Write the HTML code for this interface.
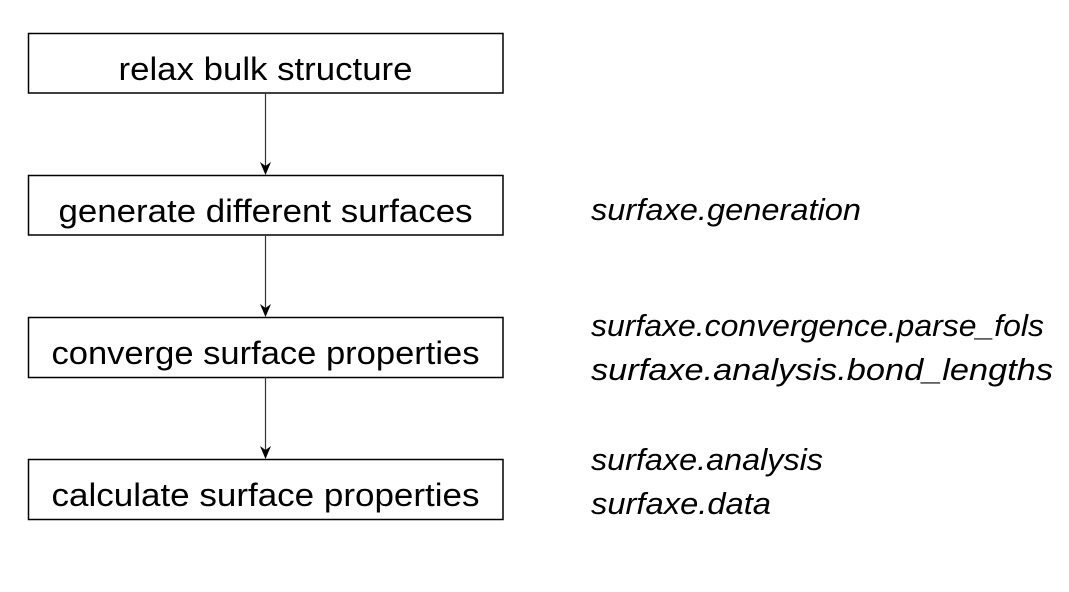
<!DOCTYPE html>
<html><head><meta charset="utf-8"><style>
html,body{margin:0;padding:0;background:#fff;}
svg{display:block;}
text{font-family:"Liberation Sans",sans-serif;fill:#000;}
.b{font-size:32px;}
.i{font-size:31px;font-style:italic;}
</style></head><body>
<svg width="1069" height="592" viewBox="0 0 1069 592">
<g fill="none" stroke="#000" stroke-width="1.5">
<rect x="28.5" y="33.5" width="474.5" height="59.5"/>
<rect x="28.5" y="175.5" width="474.5" height="59.5"/>
<rect x="28.5" y="317.5" width="474.5" height="60"/>
<rect x="28.5" y="459.5" width="474.5" height="60"/>
</g>
<g stroke="#333" stroke-width="1.2">
<line x1="265.5" y1="93" x2="265.5" y2="170"/>
<line x1="265.5" y1="235" x2="265.5" y2="312"/>
<line x1="265.5" y1="377" x2="265.5" y2="454"/>
</g>
<g fill="#000">
<polygon points="260,162 265.5,166 271,162 265.5,175"/>
<polygon points="260,304 265.5,308 271,304 265.5,317"/>
<polygon points="260,446 265.5,450 271,446 265.5,459"/>
</g>
<g class="b" text-anchor="middle">
<text x="265.5" y="80" textLength="294" lengthAdjust="spacingAndGlyphs">relax bulk structure</text>
<text x="265.5" y="222" textLength="414" lengthAdjust="spacingAndGlyphs">generate different surfaces</text>
<text x="265.5" y="364" textLength="428" lengthAdjust="spacingAndGlyphs">converge surface properties</text>
<text x="265.5" y="506" textLength="428" lengthAdjust="spacingAndGlyphs">calculate surface properties</text>
</g>
<g class="i">
<text x="591" y="220" textLength="270" lengthAdjust="spacingAndGlyphs">surfaxe.generation</text>
<text x="591" y="336" textLength="453" lengthAdjust="spacingAndGlyphs">surfaxe.convergence.parse_fols</text>
<text x="591" y="380" textLength="462" lengthAdjust="spacingAndGlyphs">surfaxe.analysis.bond_lengths</text>
<text x="591" y="470" textLength="232" lengthAdjust="spacingAndGlyphs">surfaxe.analysis</text>
<text x="591" y="514" textLength="180" lengthAdjust="spacingAndGlyphs">surfaxe.data</text>
</g>
</svg>
</body></html>
